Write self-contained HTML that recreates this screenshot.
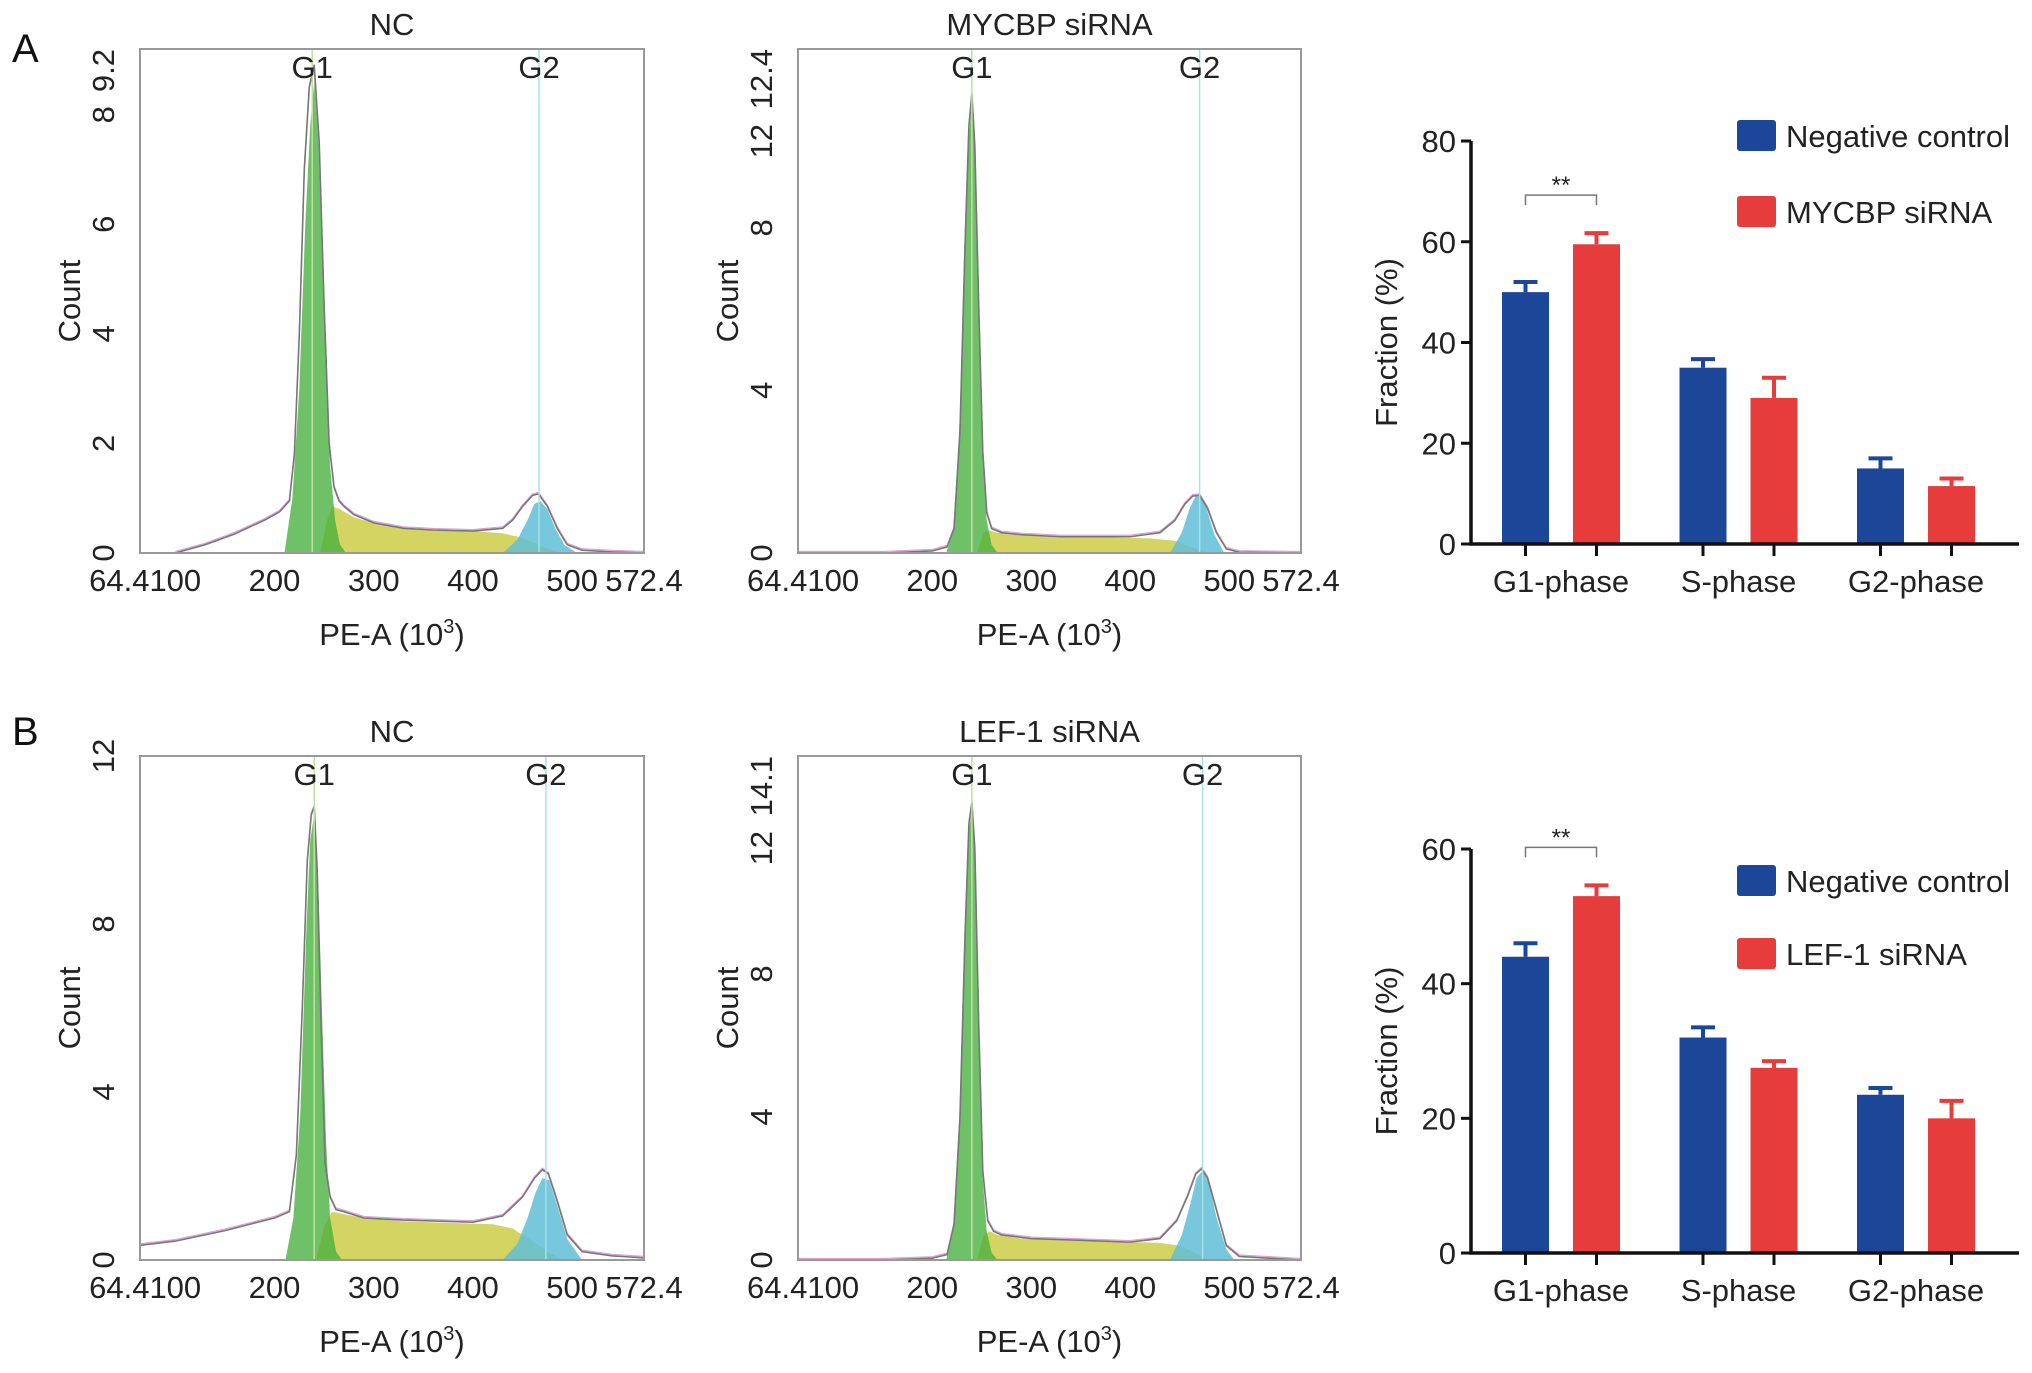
<!DOCTYPE html>
<html><head><meta charset="utf-8">
<style>
html,body{margin:0;padding:0;background:#fff;}
svg{display:block;font-family:"Liberation Sans",Arial,sans-serif;}
</style></head>
<body>
<svg id="fig" width="2032" height="1373" viewBox="0 0 2032 1373" xmlns="http://www.w3.org/2000/svg">
<text x="12" y="62" font-size="40" fill="#111">A</text>
<text x="12" y="745" font-size="40" fill="#111">B</text>
</svg>
<script>
// ---- Histogram data (x in PE-A 10^3 units, y = count) ----
const a1OutX=[100,130,160,190,205,215,220,225,230,235,240,245,250,255,260,265,270,280,300,330,360,400,430,440,450,460,466,475,485,495,510,540,572.4];
const a1OutY=[0,0.15,0.35,0.6,0.75,0.95,1.8,4,7,8.5,8.9,7.5,4.5,2,1.2,0.95,0.85,0.7,0.55,0.45,0.42,0.4,0.45,0.6,0.85,1.05,1.08,0.85,0.45,0.15,0.05,0.02,0];
const a1G1X=[210,218,225,231,236,240,244,248,252,256,261,266,272];
const a1G1Y=[0,1,3,6,7.8,8.6,7.6,5.5,3.2,1.6,0.6,0.15,0];
const a1SX=[246,253,258,266,280,300,330,360,400,430,445,460,475,490];
const a1SY=[0,0.6,0.85,0.8,0.65,0.55,0.45,0.42,0.4,0.36,0.3,0.2,0.08,0];
const a1G2X=[430,445,455,462,468,475,483,492,505];
const a1G2Y=[0,0.25,0.6,0.9,0.95,0.8,0.45,0.15,0];

const a2OutX=[64.4,150,200,215,222,228,233,237,240,243,247,251,255,260,270,290,330,400,430,445,455,463,470,478,487,497,510,572.4];
const a2OutY=[0,0,0.05,0.15,0.6,3,7.5,10.5,11.3,10,6,2.5,1,0.6,0.5,0.45,0.4,0.4,0.5,0.8,1.2,1.4,1.42,1.1,0.5,0.1,0.02,0];
const a2G1X=[214,221,227,233,237,240,243,247,251,255,260,266];
const a2G1Y=[0,0.5,2.8,7.2,10.2,11.1,9.8,5.8,2.3,0.8,0.2,0];
const a2SX=[245,252,258,265,280,320,380,420,445,460,480];
const a2SY=[0,0.5,0.55,0.5,0.45,0.4,0.38,0.36,0.3,0.15,0];
const a2G2X=[440,452,460,466,471,477,485,495];
const a2G2Y=[0,0.5,1.1,1.4,1.4,1.1,0.45,0];

const b1OutX=[64.4,100,150,200,215,222,228,233,237,240,243,247,251,256,262,270,290,330,400,430,450,462,470,476,485,495,510,540,572.4];
const b1OutY=[0.35,0.45,0.7,1,1.15,2.5,6,9.5,10.6,10.8,9.3,5.5,2.3,1.5,1.2,1.15,1,0.95,0.9,1.05,1.5,1.95,2.15,2.05,1.4,0.6,0.2,0.1,0.05];
const b1G1X=[211,219,226,232,236,240,244,248,252,256,262,268];
const b1G1Y=[0,1,3.5,7.8,10,10.6,9,5.8,2.8,1,0.2,0];
const b1SX=[242,250,258,268,290,330,380,420,440,460,475,490];
const b1SY=[0,0.8,1.15,1.1,1,0.92,0.88,0.85,0.75,0.45,0.2,0];
const b1G2X=[430,445,455,463,470,477,485,495,510];
const b1G2Y=[0,0.4,1.0,1.6,1.95,1.9,1.3,0.5,0];

const b2OutX=[64.4,150,200,215,222,228,233,237,240,243,247,251,256,262,270,300,350,400,430,447,458,466,472,478,487,497,510,572.4];
const b2OutY=[0,0,0.05,0.15,1,4,9,12.2,12.8,11.5,6.5,2.5,1.1,0.8,0.7,0.6,0.55,0.5,0.6,1.1,1.8,2.4,2.55,2.3,1.4,0.4,0.1,0];
const b2G1X=[214,221,227,233,237,240,243,247,251,255,260,266];
const b2G1Y=[0,0.8,3.8,8.7,12,12.6,11.3,6.3,2.3,0.8,0.2,0];
const b2SX=[245,252,258,266,290,330,400,430,450,465,480];
const b2SY=[0,0.7,0.8,0.7,0.6,0.55,0.5,0.48,0.4,0.2,0];
const b2G2X=[440,452,460,467,473,479,487,497,505];
const b2G2Y=[0,0.7,1.5,2.3,2.5,2.2,1.2,0.3,0];

const histXTicks=[64.4,100,200,300,400,500,572.4];
const a1YTicks=[0,2,4,6,8,9.2];
const a2YTicks=[0,4,8,12,12.4];
const b1YTicks=[0,4,8,12];
const b2YTicks=[0,4,8,12,14.1];
const gateLines=[[238,466.6],[240,470],[240,473.5],[240,473]];

// ---- Bar chart data ----
const categories=["G1-phase","S-phase","G2-phase"];
const aControl=[50,35,15];
const aControlErr=[2,1.7,2];
const aSiRNA=[59.5,29,11.5];
const aSiRNAErr=[2.2,4,1.5];
const aYTicks=[0,20,40,60,80];
const bControl=[44,32,23.5];
const bControlErr=[2,1.5,1];
const bSiRNA=[53,27.5,20];
const bSiRNAErr=[1.6,1,2.6];
const bYTicks=[0,20,40,60];

const NS="http://www.w3.org/2000/svg";
const svg=document.getElementById('fig');
function mk(tag,attrs,parent,text){const e=document.createElementNS(NS,tag);for(const k in attrs)e.setAttribute(k,attrs[k]);if(text!==undefined)e.textContent=text;(parent||svg).appendChild(e);return e;}
const FS=31;

function hist(id,L,R,T,B,ymax,title,yt,outX,outY,g1X,g1Y,sX,sY,g2X,g2Y,gates){
  const g=mk('g',{});
  
  
  const px=v=>L+(v-64.4)/508*(R-L);
  const py=c=>B-c/ymax*(B-T);
  const area=(xs,ys)=>{let d='M'+px(xs[0])+','+py(0);xs.forEach((x,i)=>d+=' L'+px(x)+','+py(ys[i]));d+=' L'+px(xs[xs.length-1])+','+py(0)+'Z';return d;};
  const line=(xs,ys)=>xs.map((x,i)=>(i?'L':'M')+px(x)+','+py(ys[i])).join(' ');
  const s=mk('path',{d:area(sX,sY),fill:'rgba(205,205,70,0.85)'},g);
  
  
  const g1=mk('path',{d:area(g1X,g1Y),fill:'rgba(70,175,60,0.78)'},g);
  
  
  const g2=mk('path',{d:area(g2X,g2Y),fill:'rgba(95,190,215,0.85)'},g);
  
  
  const o2=mk('path',{d:line(outX,outY),fill:'none',stroke:'rgba(210,120,190,0.7)','stroke-width':1.2,transform:'translate(0,-1.5)'},g);
  
  
  const o=mk('path',{d:line(outX,outY),fill:'none',stroke:'#777','stroke-width':1.6},g);
  
  
  const gl1=mk('line',{x1:px(gates[0]),x2:px(gates[0]),y1:T,y2:B,stroke:'#bfe0a0','stroke-width':1.5},g);
  
  
  const gl2=mk('line',{x1:px(gates[1]),x2:px(gates[1]),y1:T,y2:B,stroke:'#a8e2e2','stroke-width':1.5},g);
  
  
  const t1=mk('text',{x:px(gates[0]),y:T+29,'font-size':FS,'text-anchor':'middle',fill:'#222'},g,'G1');
  
  
  const t2=mk('text',{x:px(gates[1]),y:T+29,'font-size':FS,'text-anchor':'middle',fill:'#222'},g,'G2');
  
  
  const box=mk('rect',{x:L,y:T,width:R-L,height:B-T,fill:'none',stroke:'#999','stroke-width':2},g);
  
  
  const cw=FS*0.556;
  histXTicks.forEach((v,i)=>{
    let x=px(v),anchor='middle';
    if(i===0){x=px(histXTicks[1])-String(histXTicks[1]).length*cw/2;anchor='end';}
    const t=mk('text',{x:x,y:B+38,'font-size':FS,'text-anchor':anchor,fill:'#222'},g,String(v));
    
    });
  const topV=yt[yt.length-1];
  const topW=String(topV).length*cw;
  yt.forEach((v,i)=>{
    const isTop=i===yt.length-1&&v!==Math.round(v);
    let y=py(v),anchor='middle';
    if(isTop){y=T;anchor='end';}
    else if(topV!==Math.round(topV)){const hw=String(v).length*cw/2;if(y-hw<T+topW+4){y=T+topW+6;anchor='end';}}
    const t=mk('text',{x:0,y:0,'font-size':FS,'text-anchor':anchor,fill:'#222',transform:'translate('+(L-26)+','+y+') rotate(-90)'},g,String(v));
    
    });
  const yl=mk('text',{x:0,y:0,'font-size':FS,'text-anchor':'middle',fill:'#222',transform:'translate('+(L-60)+','+((T+B)/2)+') rotate(-90)'},g,'Count');
  
  
  const xl=mk('text',{x:(L+R)/2,y:B+92,'font-size':FS,'text-anchor':'middle',fill:'#222'},g);
  
  
  mk('tspan',{},xl,'PE-A (10');mk('tspan',{dy:-12,'font-size':20},xl,'3');mk('tspan',{dy:12},xl,')');
  const tt=mk('text',{x:(L+R)/2,y:T-14,'font-size':FS,'text-anchor':'middle',fill:'#222'},g,title);
  
  
}
hist('nc-a',140,644,49,553,9.2,'NC',a1YTicks,a1OutX,a1OutY,a1G1X,a1G1Y,a1SX,a1SY,a1G2X,a1G2Y,gateLines[0]);
hist('mycbp',798,1301,49,553,12.4,'MYCBP siRNA',a2YTicks,a2OutX,a2OutY,a2G1X,a2G1Y,a2SX,a2SY,a2G2X,a2G2Y,gateLines[1]);
hist('nc-b',140,644,756,1260,12,'NC',b1YTicks,b1OutX,b1OutY,b1G1X,b1G1Y,b1SX,b1SY,b1G2X,b1G2Y,gateLines[2]);
hist('lef1',798,1301,756,1260,14.1,'LEF-1 siRNA',b2YTicks,b2OutX,b2OutY,b2G1X,b2G1Y,b2SX,b2SY,b2G2X,b2G2Y,gateLines[3]);

function bars(id,T,B,ymax,ticks,ctrl,ctrlE,si,siE,siName,legY1,legY2){
  const L=1471,R=2019;
  const g=mk('g',{});
  
  
  const py=v=>B-v/ymax*(B-T);
  const bw=47, groupW=177.5, first=1525.5, off=71;
  const blue='#1c4697', red='#e63c3c';
  categories.forEach((c,i)=>{
    const cx=first+i*groupW;
    [[ctrl[i],ctrlE[i],blue,cx,'control'],[si[i],siE[i],red,cx+off,'sirna']].forEach(([v,e,col,x,n])=>{
      const r=mk('rect',{x:x-bw/2,y:py(v),width:bw,height:B-py(v),fill:col},g);
      
      
      const el=mk('path',{d:'M'+x+','+py(v)+' V'+py(v+e)+' M'+(x-12)+','+py(v+e)+' H'+(x+12),stroke:col,'stroke-width':4,fill:'none'},g);
      
      
      const tk=mk('line',{x1:x,x2:x,y1:B,y2:B+12,stroke:'#111','stroke-width':3},g);
      
      
    });
    const lb=mk('text',{x:cx+off/2,y:B+48,'font-size':31,'text-anchor':'middle',fill:'#222'},g,c);
    
    
  });
  const ax=mk('path',{d:'M'+L+','+T+' V'+B+' H'+R,stroke:'#111','stroke-width':3.5,fill:'none'},g);
  
  
  ticks.forEach(v=>{
    const tk=mk('line',{x1:L-10,x2:L,y1:py(v),y2:py(v),stroke:'#111','stroke-width':3},g);
    
    
    const t=mk('text',{x:L-15,y:py(v)+11,'font-size':31,'text-anchor':'end',fill:'#222'},g,String(v));
    
    
  });
  const yl=mk('text',{x:0,y:0,'font-size':31,'text-anchor':'middle',fill:'#222',transform:'translate(1397,'+((T+B)/2)+') rotate(-90)'},g,'Fraction (%)');
  
  
  const bt=Math.min(py(si[0]+siE[0]),py(ctrl[0]+ctrlE[0]))-38;
  const br=mk('path',{d:'M'+first+','+(bt+10)+' V'+bt+' H'+(first+off)+' V'+(bt+10),stroke:'#777','stroke-width':1.5,fill:'none'},g);
  
  
  const st=mk('text',{x:first+off/2,y:bt-2,'font-size':24,'text-anchor':'middle',fill:'#222'},g,'**');
  
  
  [[blue,'Negative control',legY1,'legend-entry-control'],[red,siName,legY2,'legend-entry-sirna']].forEach(([col,txt,y,n])=>{
    const lg=mk('g',{},g);
    
    
    mk('rect',{x:1737,y:y-15,width:39,height:31,rx:3,fill:col},lg);
    mk('text',{x:1786,y:y+12,'font-size':31,fill:'#222'},lg,txt);
  });
}
bars('mycbp',141,544,80,aYTicks,aControl,aControlErr,aSiRNA,aSiRNAErr,'MYCBP siRNA',135,211);
bars('lef1',849,1253,60,bYTicks,bControl,bControlErr,bSiRNA,bSiRNAErr,'LEF-1 siRNA',880,953);
</script>
</body></html>
